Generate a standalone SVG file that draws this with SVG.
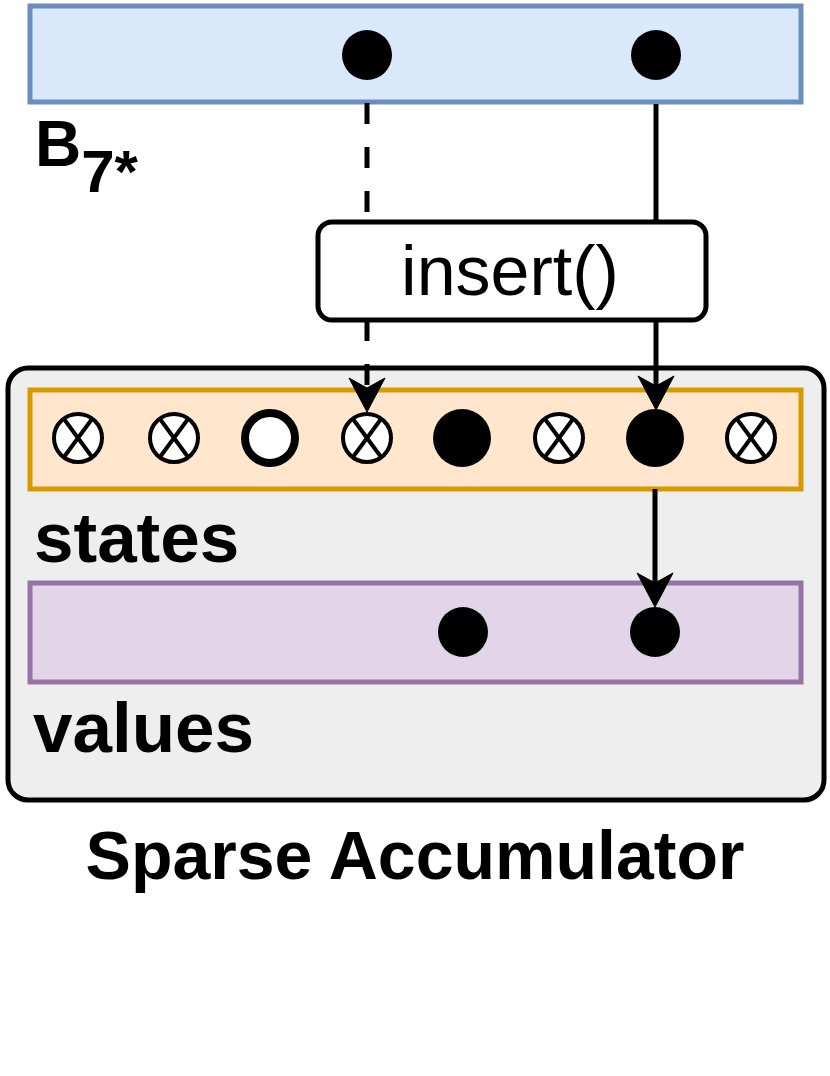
<svg xmlns="http://www.w3.org/2000/svg" width="830" height="1076" viewBox="0 0 830 1076">
<defs>
<style>
.lbl{font-family:"Liberation Sans",Arial,sans-serif;font-weight:bold;fill:#000}
.dot{fill:#000}
.x{fill:#fff;stroke:#000;stroke-width:4}
.xl{stroke:#000;stroke-width:4}
.conn{stroke:#000;stroke-width:5;fill:none}
.head{fill:#000;stroke:#000;stroke-width:1}
</style>
<g id="xc">
<circle r="24" class="x"/>
<line x1="-14" y1="-19" x2="14" y2="19" class="xl"/>
<line x1="14" y1="-19" x2="-14" y2="19" class="xl"/>
</g>
<path id="ah" d="M0,0 L-18,-34 L0,-24 L18,-34 Z" class="head"/>
</defs>
<rect width="830" height="1076" fill="#fff"/>
<g id="b7">
<rect x="30" y="6" width="771" height="96" fill="#dae8fc" stroke="#6c8ebf" stroke-width="5"/>
<circle cx="367" cy="55" r="25" class="dot"/>
<circle cx="656" cy="55" r="25" class="dot"/>
<text x="35" y="166" class="lbl" font-size="64">B<tspan font-size="60" dy="26">7*</tspan></text>
</g>
<g id="sa">
<rect x="8" y="368" width="816" height="432" rx="20" fill="#eeeeee" stroke="#000" stroke-width="5"/>
<text x="415" y="879" class="lbl" font-size="68" text-anchor="middle">Sparse Accumulator</text>
</g>
<g id="states">
<rect x="30" y="390" width="771" height="99" fill="#ffe6cc" stroke="#d79b00" stroke-width="5"/>
<use href="#xc" x="78" y="438"/>
<use href="#xc" x="174" y="438"/>
<circle cx="270" cy="438" r="25" fill="#fff" stroke="#000" stroke-width="8"/>
<use href="#xc" x="367" y="438"/>
<circle cx="462" cy="438" r="29" class="dot"/>
<use href="#xc" x="559" y="438"/>
<circle cx="655" cy="438" r="29" class="dot"/>
<use href="#xc" x="751" y="438"/>
<text x="34" y="562" class="lbl" font-size="71">states</text>
</g>
<g id="values">
<rect x="30" y="583" width="771" height="99" fill="#e1d5e7" stroke="#9673a6" stroke-width="5"/>
<circle cx="463" cy="632" r="25" class="dot"/>
<circle cx="655" cy="632" r="25" class="dot"/>
<text x="33" y="752" class="lbl" font-size="71">values</text>
</g>
<g id="connectors">
<line x1="367" y1="103" x2="367" y2="222" class="conn" stroke-dasharray="21 23"/>
<line x1="656" y1="104" x2="656" y2="222" class="conn"/>
<line x1="367" y1="320" x2="367" y2="388" class="conn" stroke-dasharray="21 23"/>
<use href="#ah" x="367" y="412"/>
<line x1="656" y1="320" x2="656" y2="388" class="conn"/>
<use href="#ah" x="656" y="410"/>
<line x1="655" y1="489" x2="655" y2="585" class="conn"/>
<use href="#ah" x="655" y="607"/>
</g>
<g id="insert">
<rect x="318" y="222" width="388" height="98" rx="14" fill="#fff" stroke="#000" stroke-width="5"/>
<text x="510" y="295" font-family="'Liberation Sans',Arial,sans-serif" font-size="70" text-anchor="middle">insert()</text>
</g>
</svg>
